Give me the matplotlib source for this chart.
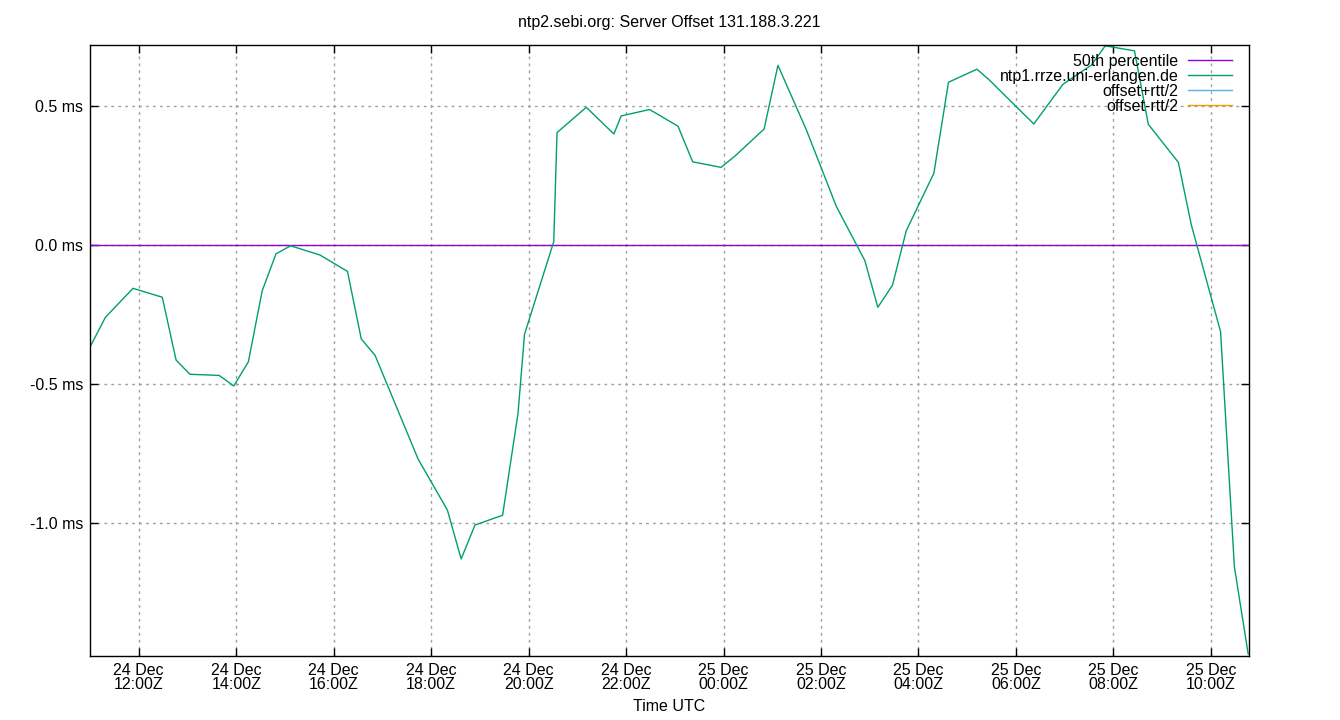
import numpy as np
import pandas as pd
import matplotlib
matplotlib.use("Agg")
import matplotlib.pyplot as plt
import matplotlib.dates as mdates

plt.rcParams['font.family'] = ['Liberation Sans', 'DejaVu Sans']
plt.rcParams['font.size'] = 11.5

# sample times (UTC) and offset in ms
times = [
    "2023-12-24 11:00", "2023-12-24 11:19", "2023-12-24 11:53", "2023-12-24 12:29",
    "2023-12-24 12:46", "2023-12-24 13:03", "2023-12-24 13:39", "2023-12-24 13:57",
    "2023-12-24 14:15", "2023-12-24 14:32", "2023-12-24 14:49", "2023-12-24 15:07",
    "2023-12-24 15:43", "2023-12-24 16:17", "2023-12-24 16:34", "2023-12-24 16:51",
    "2023-12-24 17:44", "2023-12-24 18:20", "2023-12-24 18:37", "2023-12-24 18:54",
    "2023-12-24 19:28", "2023-12-24 19:47", "2023-12-24 19:55", "2023-12-24 20:31",
    "2023-12-24 20:35", "2023-12-24 21:11", "2023-12-24 21:45", "2023-12-24 21:54",
    "2023-12-24 22:29", "2023-12-24 23:04", "2023-12-24 23:22", "2023-12-24 23:57",
    "2023-12-25 00:15", "2023-12-25 00:50", "2023-12-25 01:07", "2023-12-25 01:42",
    "2023-12-25 02:19", "2023-12-25 02:54", "2023-12-25 03:10", "2023-12-25 03:28",
    "2023-12-25 03:45", "2023-12-25 04:19", "2023-12-25 04:37", "2023-12-25 05:12",
    "2023-12-25 05:27", "2023-12-25 06:22", "2023-12-25 06:58", "2023-12-25 07:33",
    "2023-12-25 07:50", "2023-12-25 08:26", "2023-12-25 08:43", "2023-12-25 09:20",
    "2023-12-25 09:36", "2023-12-25 10:12", "2023-12-25 10:29", "2023-12-25 10:46",
]
offset_ms = [
    -0.367, -0.260, -0.156, -0.188,
    -0.414, -0.465, -0.469, -0.507,
    -0.420, -0.165, -0.032, -0.003,
    -0.036, -0.095, -0.338, -0.397,
    -0.770, -0.953, -1.129, -1.007,
    -0.972, -0.605, -0.321, 0.012,
    0.404, 0.495, 0.399, 0.464,
    0.487, 0.427, 0.299, 0.279,
    0.322, 0.417, 0.646, 0.414,
    0.138, -0.056, -0.224, -0.145,
    0.051, 0.258, 0.585, 0.632,
    0.594, 0.435, 0.578, 0.647,
    0.716, 0.698, 0.434, 0.297,
    0.072, -0.312, -1.157, -1.471,
]
p50 = 0.0

t = pd.to_datetime(times)
off = np.array(offset_ms)

fig = plt.figure(figsize=(13.4, 7.2), dpi=100)
ax = fig.add_axes([90/1340, 1-656/720, (1249-90)/1340, (656-45)/720])

ax.axhline(p50, color='#9400d3', lw=1, label='50th percentile')
ax.plot(t, off, color='#009e73', lw=1, label='ntp1.rrze.uni-erlangen.de')
ax.plot([], [], color='#56b4e9', lw=1, label='offset+rtt/2')
ax.plot([], [], color='#e69f00', lw=1, label='offset-rtt/2')

ax.set_xlim(pd.Timestamp("2023-12-24 11:00"), pd.Timestamp("2023-12-25 10:47"))
ax.set_ylim(-1.478, 0.719)

ax.xaxis.set_major_locator(mdates.HourLocator(byhour=range(0, 24, 2)))
ax.xaxis.set_major_formatter(mdates.DateFormatter("%d %b\n%H:%MZ"))
ax.set_yticks([-1.0, -0.5, 0.0, 0.5])
ax.set_yticklabels(["-1.0 ms", "-0.5 ms", "0.0 ms", "0.5 ms"])
for lab in ax.get_xticklabels():
    lab.set_linespacing(0.95)

ax.tick_params(direction='in', top=True, right=True, length=6, width=1, pad=5)
ax.grid(True, color='#a0a0a0', linestyle=(0, (2, 3)), lw=1)
for s in ax.spines.values():
    s.set_linewidth(1)

ax.set_title("ntp2.sebi.org: Server Offset 131.188.3.221", fontsize=11.5, pad=13)
ax.set_xlabel("Time UTC", labelpad=5)

ax.legend(loc='upper right', bbox_to_anchor=(0.9853, 0.986), frameon=False,
          markerfirst=False, handlelength=2.75, borderpad=0, borderaxespad=0,
          labelspacing=0.0, handletextpad=0.6)

plt.savefig("out.png", dpi=100)
